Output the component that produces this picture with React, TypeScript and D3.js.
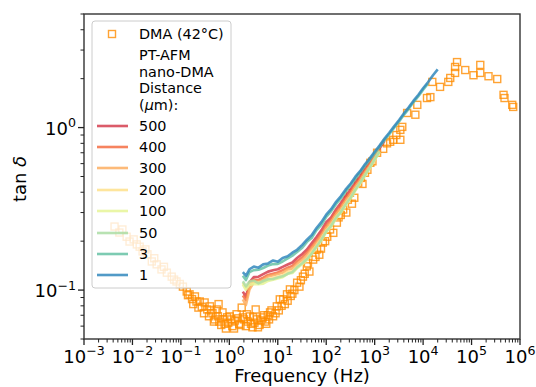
import React from "react";
import * as d3 from "d3";

const W = 536;
const H = 387;
const PLOT = { left: 84, right: 520, top: 14, bottom: 339 };

// DMA master curve (42°C)
const dmaFreq = [
  0.00427, 0.00537, 0.0062, 0.00759, 0.00871, 0.0106, 0.0123, 0.0141, 0.0162, 0.0185,
  0.0204, 0.0251, 0.0282, 0.0316, 0.0398, 0.0447, 0.0513, 0.0646, 0.0724, 0.0813,
  0.095, 0.11, 0.132, 0.14, 0.151, 0.17, 0.195, 0.21, 0.245, 0.27,
  0.309, 0.35, 0.398, 0.45, 0.5, 0.55, 0.6, 0.62, 0.724, 0.8,
  0.9, 1.02, 1.15, 1.3, 1.41, 1.6, 1.8, 1.91, 2.2, 2.4,
  2.63, 3.0, 3.3, 3.5, 3.72, 4.2, 4.9, 5.5, 6.2, 6.92,
  8.0, 9.55, 10.5, 11.0, 12.9, 14, 15.5, 17.8, 20, 25.1,
  28, 33.1, 39.8, 45, 53.7, 64.6, 72, 85.1, 105, 120,
  140, 166, 224, 260, 309, 380, 457, 631, 708, 813,
  1122, 2089, 2399, 3388, 3715, 3388, 4677, 6918, 7586, 12023,
  14125, 15488, 22387, 33113, 36308, 45709, 50119, 45709, 74131, 109648,
  151356, 151356, 223872, 338844, 457088, 478630, 691831, 724436,
  0.18, 0.23, 0.3, 0.38, 0.42, 0.48, 0.58, 0.68, 0.75, 0.85,
  0.95, 1.1, 1.25, 1.5, 1.7, 2.0, 2.3, 2.8, 3.1, 3.9,
  4.5, 5.2, 5.8, 6.6, 7.4, 9.0, 12, 16, 18.5, 22,
  30, 36, 42, 60, 78, 95, 180, 200, 280, 340,
  520, 560, 900, 1500, 1800, 2800,
];
const dmaTan = [
  0.246, 0.226, 0.236, 0.213, 0.199, 0.205, 0.191, 0.185, 0.173, 0.178,
  0.166, 0.15, 0.157, 0.144, 0.134, 0.139, 0.128, 0.121, 0.116, 0.113,
  0.109, 0.105, 0.098, 0.093, 0.0942, 0.088, 0.0914, 0.085, 0.0851, 0.079,
  0.0839, 0.076, 0.0794, 0.072, 0.066, 0.076, 0.082, 0.064, 0.0729, 0.062,
  0.068, 0.0689, 0.06, 0.065, 0.071, 0.062, 0.078, 0.0679, 0.06, 0.064,
  0.0689, 0.059, 0.063, 0.076, 0.0661, 0.061, 0.0679, 0.064, 0.07, 0.0729,
  0.069, 0.0794, 0.075, 0.0877, 0.0877, 0.082, 0.0942, 0.101, 0.095, 0.111,
  0.105, 0.121, 0.14, 0.13, 0.154, 0.178, 0.165, 0.196, 0.213, 0.236,
  0.225, 0.26, 0.313, 0.3, 0.397, 0.37, 0.458, 0.527, 0.55, 0.607,
  0.7, 0.818, 0.841, 0.968, 1.01, 0.841, 1.23, 1.2, 1.38, 1.52,
  1.54, 1.91, 1.78, 1.91, 2.02, 2.36, 2.53, 2.17, 2.26, 2.1,
  2.43, 2.17, 2.07, 1.99, 1.59, 1.52, 1.38, 1.34,
  0.082, 0.078, 0.072, 0.069, 0.075, 0.064, 0.069, 0.061, 0.066, 0.058,
  0.063, 0.066, 0.058, 0.067, 0.061, 0.066, 0.071, 0.062, 0.068, 0.059,
  0.065, 0.07, 0.062, 0.066, 0.075, 0.072, 0.08, 0.086, 0.092, 0.1,
  0.115, 0.126, 0.146, 0.16, 0.18, 0.2, 0.28, 0.29, 0.36, 0.34,
  0.49, 0.45, 0.62, 0.74, 0.8, 0.9,
];

// PT-AFM nano-DMA frequency grid (Hz)
const afmFreq = [
  1.9, 2.2, 2.6, 3.2, 4, 5, 6.3, 8, 10, 12.6,
  16, 20, 25, 32, 40, 50, 63, 80, 100, 126,
  160, 200, 250, 320, 400, 500, 630, 800, 1000, 1260,
  1600, 2000, 2500, 3200, 4000, 5000, 6300, 8000, 10000, 12600,
  16000, 20000,
];

const tan500 = [
  0.0979, 0.0907, 0.1115, 0.1201, 0.1209, 0.1252, 0.1299, 0.1323, 0.1344, 0.1389,
  0.1436, 0.1477, 0.1575, 0.1669, 0.1777, 0.1938, 0.2121, 0.2341, 0.262, 0.2802,
  0.3142, 0.3436, 0.3777, 0.4167, 0.459, 0.5017, 0.5586, 0.6097, 0.6741, 0.7435,
  0.8294,
];
const tan400 = [
  0.0927, 0.087, 0.1061, 0.1159, 0.1154, 0.1194, 0.124, 0.1262, 0.1284, 0.1326,
  0.1372, 0.1409, 0.1505, 0.1593, 0.1715, 0.1851, 0.2024, 0.2236, 0.2503, 0.2707,
  0.3037, 0.3285, 0.3652, 0.4031, 0.444, 0.4856, 0.5408, 0.5967, 0.6599, 0.7358,
];
const tan300 = [
  0.0876, 0.0809, 0.1007, 0.1117, 0.1127, 0.1151, 0.1211, 0.1232, 0.1254, 0.1278,
  0.134, 0.1358, 0.1451, 0.1537, 0.1634, 0.1786, 0.1952, 0.2157, 0.2416, 0.2613,
  0.2932, 0.3172, 0.3528, 0.3895, 0.434, 0.4748, 0.5289, 0.5837, 0.6528, 0.728,
];
const tan200 = [
  0.1108, 0.1029, 0.1101, 0.1117, 0.1113, 0.1122, 0.1167, 0.1186, 0.1209, 0.1231,
  0.1291, 0.1307, 0.1398, 0.148, 0.1572, 0.1721, 0.188, 0.2078, 0.2329, 0.2518,
  0.2828, 0.3059, 0.3403, 0.3759, 0.4191, 0.4586, 0.5111, 0.5708, 0.6386, 0.7125,
];
const tan100 = [
  0.1082, 0.1005, 0.1074, 0.1089, 0.1085, 0.1094, 0.1138, 0.1156, 0.1179, 0.1199,
  0.1259, 0.1274, 0.1363, 0.1442, 0.1532, 0.1677, 0.1832, 0.2025, 0.2271, 0.2455,
  0.2758, 0.2983, 0.332, 0.3668, 0.4091, 0.4532, 0.5052, 0.5643, 0.6315, 0.7048,
];
const tan50 = [
  0.1133, 0.1054, 0.1128, 0.1145, 0.1099, 0.1137, 0.1167, 0.1171, 0.1194, 0.1215,
  0.1259, 0.129, 0.1381, 0.1461, 0.1552, 0.1677, 0.1856, 0.2051, 0.23, 0.2487,
  0.2793, 0.3021, 0.3362, 0.3714, 0.4141, 0.4586, 0.5111, 0.5708, 0.6386, 0.7125,
];
const tan3 = [
  0.1224, 0.1152, 0.1289, 0.1326, 0.1333, 0.1367, 0.1415, 0.1445, 0.1448, 0.1499,
  0.1566, 0.163, 0.1717, 0.1821, 0.1981, 0.2091, 0.2338, 0.2525, 0.2824, 0.3054,
  0.3386, 0.3663, 0.4026, 0.4438, 0.4839, 0.5287, 0.5824, 0.6356, 0.6954, 0.759,
  0.838, 0.9104, 0.9937, 1.092, 1.198, 1.3, 1.43, 1.56, 1.711, 1.863,
];
const tan1 = [
  0.1288, 0.1225, 0.1343, 0.1396, 0.1374, 0.1439, 0.1459, 0.1521, 0.1493, 0.1578,
  0.1614, 0.1698, 0.177, 0.1897, 0.2042, 0.2178, 0.241, 0.263, 0.2911, 0.3148,
  0.3491, 0.3776, 0.415, 0.4529, 0.4989, 0.5395, 0.5943, 0.6486, 0.7096, 0.7745,
  0.8551, 0.929, 1.014, 1.114, 1.222, 1.327, 1.459, 1.592, 1.746, 1.901,
  2.099, 2.28,
];

const seriesLabels = ["500", "400", "300", "200", "100", "50", "3", "1"];
const seriesValues = [tan500, tan400, tan300, tan200, tan100, tan50, tan3, tan1];
const seriesColors = [
  "#d53e4f", "#f46d43", "#fdae61", "#fee08b", "#e6f598", "#abdda4", "#66c2a5", "#3288bd",
];
const dmaColor = "#ff8c00";

const xTickExps = [-3, -2, -1, 0, 1, 2, 3, 4, 5, 6];
const yTickExps = [-1, 0];
const legendHeaderLines = ["PT-AFM", "nano-DMA", "Distance"];

const FONT = "DejaVu Sans, sans-serif";

function Pow10({ exp, x, y, anchor, size }: { exp: number; x: number; y: number; anchor: string; size: number }) {
  const e = exp < 0 ? "\u2212" + Math.abs(exp) : String(exp);
  return (
    <text x={x} y={y} textAnchor={anchor as any} fontSize={size} fontFamily={FONT} fill="#000">
      10
      <tspan dy={-size * 0.42} fontSize={size * 0.7}>{e}</tspan>
    </text>
  );
}

export default function App() {
  const x = d3.scaleLog().domain([1e-3, 1e6]).range([PLOT.left, PLOT.right]);
  const y = d3.scaleLog().domain([0.05, 5]).range([PLOT.bottom, PLOT.top]);

  const line = d3
    .line<[number, number]>()
    .x((d) => x(d[0]))
    .y((d) => y(d[1]));

  const xMinor: number[] = [];
  for (let e = -3; e < 6; e++) for (let k = 2; k <= 9; k++) xMinor.push(k * Math.pow(10, e));
  const yMinor: number[] = [];
  for (let e = -2; e <= 0; e++)
    for (let k = 2; k <= 9; k++) {
      const v = k * Math.pow(10, e);
      if (v >= 0.05 && v <= 5) yMinor.push(v);
    }

  const sq = 7;
  const tickColor = "#222";

  const LG = { x: 92, y: 21, w: 139, h: 267 };
  const handleX1 = 97;
  const handleX2 = 128;
  const textX = 139;
  const legendFont = 14.4;
  const entryYs = [126, 147, 168, 190, 211, 233, 254, 275];

  return (
    <svg width={W} height={H} style={{ position: "absolute", left: 0, top: 0, background: "#fff" }}>
      <defs>
        <clipPath id="plotclip">
          <rect x={PLOT.left} y={PLOT.top} width={PLOT.right - PLOT.left} height={PLOT.bottom - PLOT.top} />
        </clipPath>
      </defs>
      <rect x={0} y={0} width={W} height={H} fill="#fff" />

      <g clipPath="url(#plotclip)">
        {dmaFreq.map((f, i) => (
          <rect
            key={"d" + i}
            x={x(f) - sq / 2}
            y={y(dmaTan[i]) - sq / 2}
            width={sq}
            height={sq}
            fill="none"
            stroke={dmaColor}
            strokeWidth={1.4}
            strokeOpacity={0.8}
          />
        ))}
        {seriesValues.map((vals, si) => (
          <path
            key={"s" + si}
            d={line(vals.map((v, i) => [afmFreq[i], v] as [number, number])) || ""}
            fill="none"
            stroke={seriesColors[si]}
            strokeWidth={2.6}
            strokeOpacity={0.85}
            strokeLinejoin="round"
          />
        ))}
      </g>

      <rect
        x={PLOT.left}
        y={PLOT.top}
        width={PLOT.right - PLOT.left}
        height={PLOT.bottom - PLOT.top}
        fill="none"
        stroke="#333"
        strokeWidth={1.4}
      />

      {xTickExps.map((e) => {
        const px = x(Math.pow(10, e));
        return (
          <g key={"xt" + e}>
            <line x1={px} x2={px} y1={PLOT.bottom} y2={PLOT.bottom + 6} stroke={tickColor} strokeWidth={1.3} />
            <Pow10 exp={e} x={px} y={363} anchor="middle" size={18} />
          </g>
        );
      })}
      {xMinor.map((v, i) => {
        const px = x(v);
        return <line key={"xm" + i} x1={px} x2={px} y1={PLOT.bottom} y2={PLOT.bottom + 3.5} stroke={tickColor} strokeWidth={1} />;
      })}

      {yTickExps.map((e) => {
        const py = y(Math.pow(10, e));
        return (
          <g key={"yt" + e}>
            <line x1={PLOT.left - 6} x2={PLOT.left} y1={py} y2={py} stroke={tickColor} strokeWidth={1.3} />
            <Pow10 exp={e} x={PLOT.left - 8} y={py + 7} anchor="end" size={18} />
          </g>
        );
      })}
      {yMinor.map((v, i) => {
        const py = y(v);
        return <line key={"ym" + i} x1={PLOT.left - 3.5} x2={PLOT.left} y1={py} y2={py} stroke={tickColor} strokeWidth={1} />;
      })}

      <text x={302} y={382} textAnchor="middle" fontSize={18} fontFamily={FONT}>
        Frequency (Hz)
      </text>
      <text transform="translate(26,179) rotate(-90)" textAnchor="middle" fontSize={18} fontFamily={FONT}>
        tan <tspan fontStyle="italic">δ</tspan>
      </text>

      <rect x={LG.x} y={LG.y} width={LG.w} height={LG.h} rx={3} fill="#fff" fillOpacity={0.8} stroke="#ccc" strokeWidth={1} />
      <rect x={112 - sq / 2} y={34 - sq / 2} width={sq} height={sq} fill="none" stroke={dmaColor} strokeWidth={1.4} strokeOpacity={0.8} />
      <text x={textX} y={39} fontSize={legendFont} fontFamily={FONT}>
        DMA (42°C)
      </text>
      {legendHeaderLines.map((t, i) => (
        <text key={"lh" + i} x={textX} y={60 + i * 16.7} fontSize={legendFont} fontFamily={FONT}>
          {t}
        </text>
      ))}
      <text x={textX} y={60 + 3 * 16.7} fontSize={legendFont} fontFamily={FONT}>
        (<tspan fontStyle="italic">μ</tspan>m):
      </text>
      {seriesLabels.map((lab, i) => (
        <g key={"lg" + i}>
          <line
            x1={handleX1}
            x2={handleX2}
            y1={entryYs[i]}
            y2={entryYs[i]}
            stroke={seriesColors[i]}
            strokeWidth={2.6}
            strokeOpacity={0.85}
          />
          <text x={textX} y={entryYs[i] + 5} fontSize={legendFont} fontFamily={FONT}>
            {lab}
          </text>
        </g>
      ))}
    </svg>
  );
}
